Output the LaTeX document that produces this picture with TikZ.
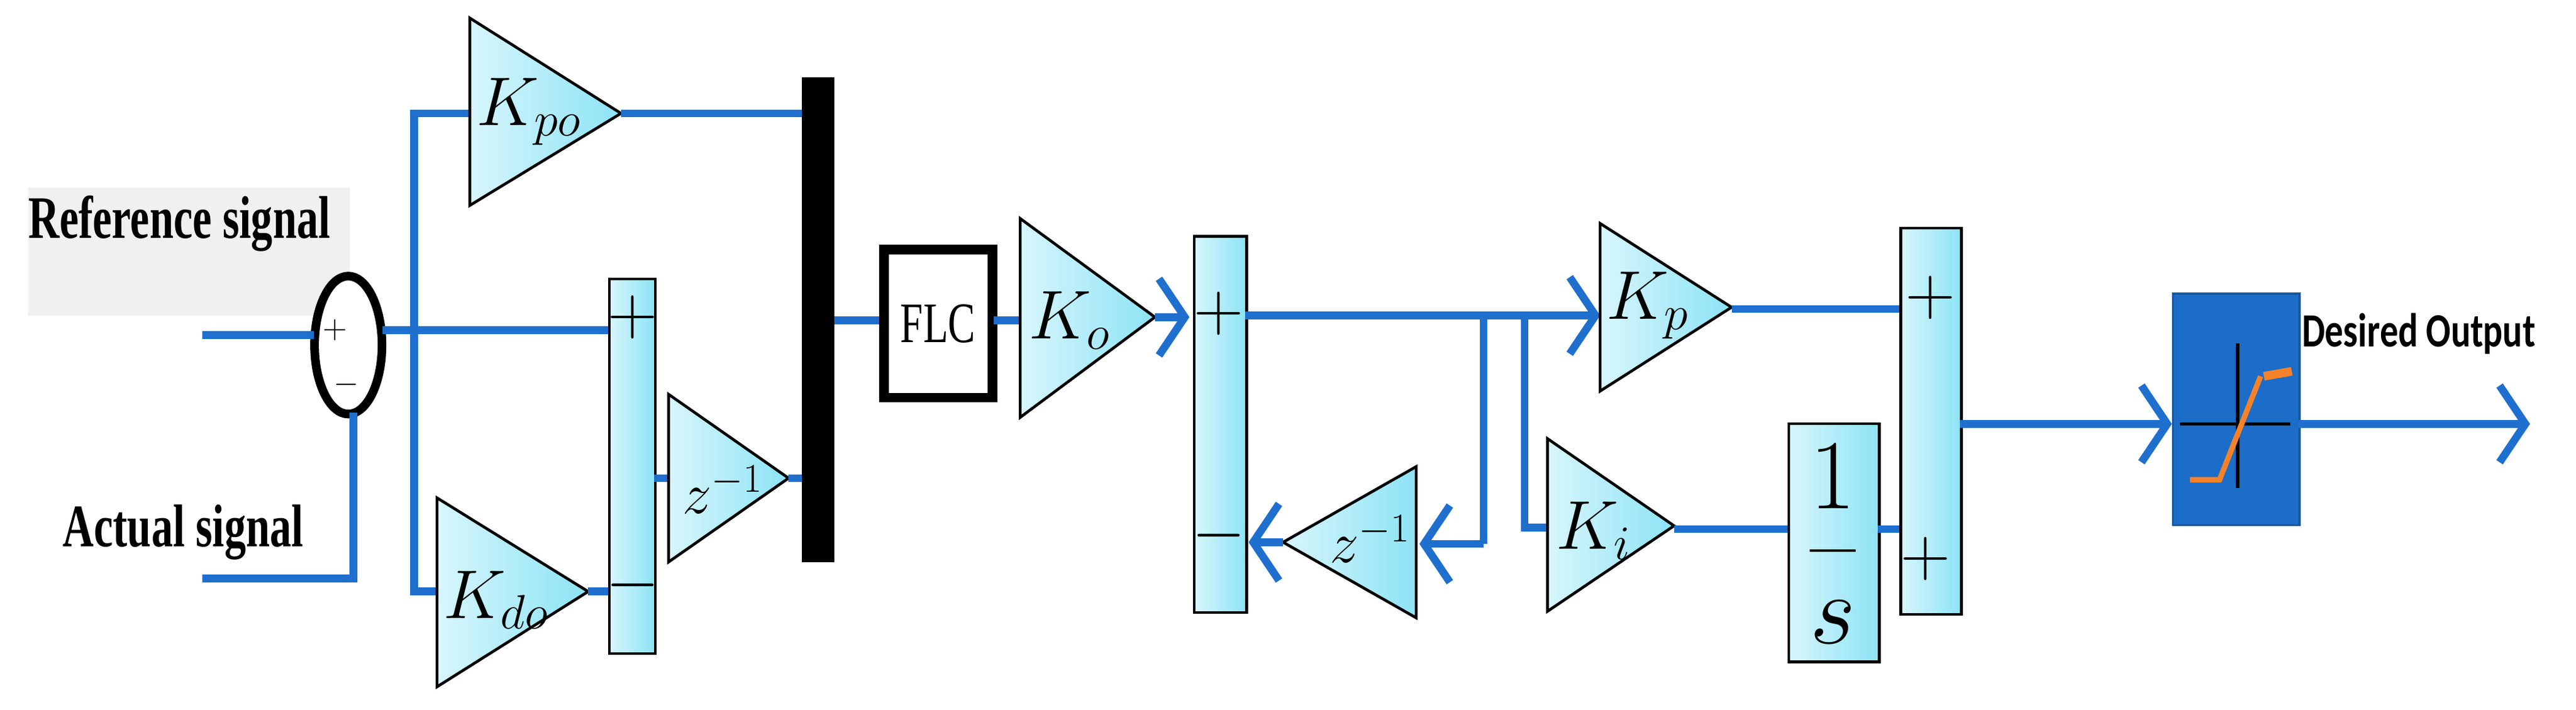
\RequirePackage{fix-cm}
\documentclass[tikz,border=0pt]{standalone}
\usepackage{fontspec}
\usepackage{amsmath}
\setmainfont{Liberation Serif}
\newfontfamily\carlitofont{Carlito}
\usetikzlibrary{arrows.meta,shapes.geometric}
\definecolor{wire}{HTML}{1F6FCF}
\definecolor{cyl}{HTML}{D8F6FC}
\definecolor{cyd}{HTML}{8CE3F5}
\definecolor{satb}{HTML}{1B6DC8}
\definecolor{orng}{HTML}{F5822A}
\tikzset{
  x=0.0268cm, y=-0.0268cm,
  wire/.style={draw=wire, line width=3.6pt},
  arr/.style={wire, -{Straight Barb[length=0.42cm,width=1.25cm,line width=3.6pt]}},
  blk/.style={draw=black, line width=1.3pt, left color=cyl, right color=cyd},
  lab/.style={font=\fontsize{32}{34}\selectfont},
  zlab/.style={font=\fontsize{27}{29}\selectfont},
  txt/.style={font=\bfseries\fontsize{20}{22}\selectfont, yscale=1.4, inner sep=0pt},
  sgn/.style={font=\fontsize{32}{32}\selectfont, inner sep=0pt}
}
\begin{document}
\begin{tikzpicture}
\useasboundingbox (0,0) rectangle (1568,432);
% reference label box
\fill[black!6] (17,114) rectangle (213,192);
\node[txt, anchor=west] (ref) at (17,136) {Reference signal};
\node[txt, anchor=west] (act) at (38,324) {Actual signal};
% summing ellipse
\node[draw=black, line width=4pt, ellipse, inner sep=0pt, minimum width=1.1cm, minimum height=2.25cm, fill=white] (sum) at (212,210) {};
\node[font=\fontsize{15}{15}\selectfont, inner sep=0pt] (sp) at (204,201) {$+$};
\node[font=\fontsize{15}{15}\selectfont, inner sep=0pt] (sm) at (211,234) {$-$};
\coordinate (rin) at (123,204);
\coordinate (ain) at (123,352);
\draw[wire] (rin) -- (191,204);
\draw[wire] (ain) -- (215,352) -- (215,251);
% branch
\draw[wire] (233,201) -- (370,201);
\draw[wire] (286,69) -- (252,69) -- (252,360) -- (266,360);
% Kpo
\draw[blk] (286,11) -- (378,69) -- (286,125) -- cycle;
\node[lab] (kpo) at (322,68) {$K_{po}$};
\draw[wire] (378,69) -- (488,69);
% Kdo
\draw[blk] (266,303) -- (358,360) -- (266,418) -- cycle;
\node[lab] (kdo) at (302,365) {$K_{do}$};
\draw[wire] (358,360) -- (370,360);
% box1
\node[blk, minimum width=28*0.0268cm, minimum height=228*0.0268cm, inner sep=0pt, anchor=north west] (box1) at (370,169) {};
\node[sgn] at (385,193) {$+$};
\node[sgn] at (385,356) {$-$};
% z^-1 (1)
\draw[wire] (398,291) -- (407,291);
\draw[blk] (407,240) -- (480,291) -- (407,342) -- cycle;
\node[zlab] (z1) at (440,298) {$z^{-1}$};
\draw[wire] (480,291) -- (488,291);
% black bar
\fill[black] (488,47) rectangle (508,342);
% FLC
\draw[wire] (508,195) -- (540,195);
\node[draw=black, line width=4.5pt, fill=white, minimum width=66*0.0268cm, minimum height=90*0.0268cm] (flc) at (571,197) {};
\node[font=\fontsize{19}{19}\selectfont, yscale=1.4] at (flc) {FLC};
\draw[wire] (605,195) -- (621,195);
% Ko
\draw[blk] (621,133) -- (703,193) -- (621,254) -- cycle;
\node[lab] (ko) at (651,195) {$K_o$};
\draw[arr] (703,193) -- (724,193);
% box2
\node[blk, minimum width=32*0.0268cm, minimum height=229*0.0268cm, inner sep=0pt, anchor=north west] (box2) at (726,143) {};
\node[sgn] at (742,191) {$+$};
\node[sgn] at (742,326) {$-$};
% main line
\draw[arr] (758,192) -- (974,192);
\draw[wire] (903,192) -- (903,331);
\draw[arr] (903,331) -- (864,331);
\draw[wire] (928,192) -- (928,321) -- (942,321);
% z^-1 (2)
\draw[blk] (862,284) -- (781,330) -- (862,376) -- cycle;
\node[zlab] (z2) at (834,328) {$z^{-1}$};
\draw[arr] (781,330) -- (760,330);
% Kp
\draw[blk] (974,136) -- (1054,187) -- (974,238) -- cycle;
\node[lab] (kp) at (1003,186) {$K_p$};
\draw[wire] (1054,188) -- (1156,188);
% Ki
\draw[blk] (942,267) -- (1019,320) -- (942,372) -- cycle;
\node[lab] (ki) at (970,323) {$K_i$};
\draw[wire] (1019,322) -- (1088,322);
% 1/s
\node[blk, minimum width=55*0.0268cm, minimum height=145*0.0268cm, inner sep=0pt, anchor=north west] (integ) at (1088,257) {};
\node[font=\fontsize{46}{46}\selectfont] at (1115.5,331) {$\dfrac{1}{s}$};
\draw[wire] (1143,322) -- (1156,322);
% box3
\node[blk, minimum width=37*0.0268cm, minimum height=235*0.0268cm, inner sep=0pt, anchor=north west] (box3) at (1156,138) {};
\node[sgn] at (1175,181) {$+$};
\node[sgn] at (1172,340) {$+$};
\draw[arr] (1193,258) -- (1322,258);
% saturation
\node[draw=satb!80!black, fill=satb, line width=1pt, minimum width=77*0.0268cm, minimum height=141*0.0268cm, inner sep=0pt, anchor=north west] (sat) at (1322,178) {};
\draw[black, line width=1.5pt] (1327,258) -- (1394,258);
\draw[black, line width=1.5pt] (1362,209) -- (1362,297);
\draw[orng, line width=2.5pt] (1333,292) -- (1351,292) -- (1376,229);
\draw[orng, line width=4pt] (1378,229) -- (1395,226);
\draw[arr] (1399,258) -- (1540,258);
\node[font=\carlitofont\bfseries\fontsize{17}{19}\selectfont, yscale=1.3, anchor=west, inner sep=0pt] (out) at (1401,203) {Desired Output};
\end{tikzpicture}
\end{document}
